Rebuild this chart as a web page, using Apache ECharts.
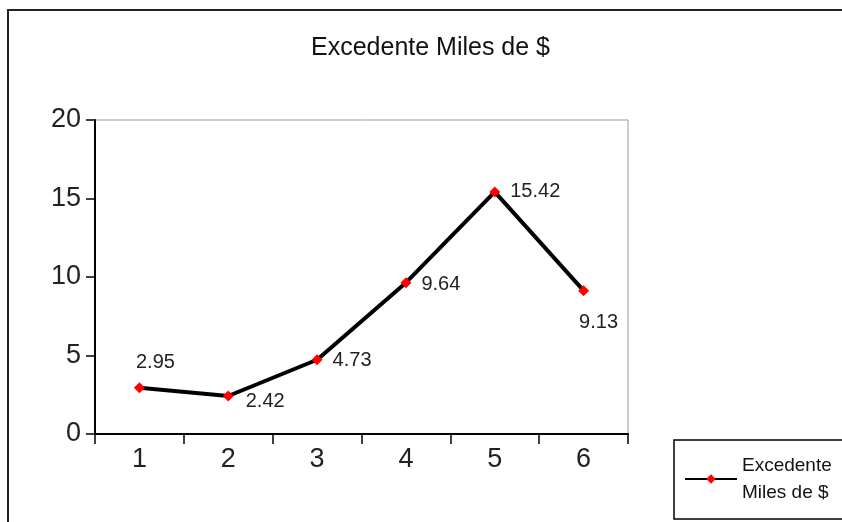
<!DOCTYPE html>
<html>
<head>
<meta charset="utf-8">
<script src="https://cdn.jsdelivr.net/npm/echarts@6/dist/echarts.min.js"></script>
<style>
  html, body { margin: 0; padding: 0; background: #fff; }
  #main { width: 842px; height: 522px; }
</style>
</head>
<body>
<div id="main"></div>
<script>
var categories = ['1', '2', '3', '4', '5', '6'];
var excedente = [2.95, 2.42, 4.73, 9.64, 15.42, 9.13];
// where each value label sits (the original puts them by hand)
var labelPos = ['top', 'right', 'right', 'right', 'right', 'bottom'];
var labelShift = [[16, 0], [2, 5], [0, 1], [0, 2], [0, 0], [15, 6]];

var myChart = echarts.init(document.getElementById('main'));

var seriesData = excedente.map(function (v, i) {
    return { value: v, label: { position: labelPos[i], offset: labelShift[i] } };
});

var option = {
    backgroundColor: '#fff',
    animation: false,
    graphic: [{
        type: 'rect',
        shape: { x: 8, y: 10, width: 900, height: 600 },
        style: { fill: 'none', stroke: '#222', lineWidth: 2 },
        silent: true
    }],
    title: {
        text: 'Excedente Miles de $',
        left: 306,
        top: 31,
        textStyle: {
            fontFamily: 'Liberation Sans, Arial, sans-serif',
            fontSize: 25,
            fontWeight: 'normal',
            color: '#111'
        }
    },
    legend: {
        left: 674,
        top: 440,
        padding: [12, 60, 13, 10],
        borderColor: '#000',
        borderWidth: 1.5,
        itemWidth: 52,
        itemHeight: 12,
        itemGap: 4,
        data: ['Excedente Miles de $'],
        formatter: function () { return 'Excedente\nMiles de $'; },
        textStyle: {
            fontFamily: 'Liberation Sans, Arial, sans-serif',
            fontSize: 19,
            lineHeight: 27,
            color: '#111'
        }
    },
    grid: {
        left: 95,
        top: 120,
        width: 533,
        height: 314,
        show: true,
        borderColor: '#999',
        borderWidth: 1,
        containLabel: false
    },
    xAxis: {
        type: 'category',
        data: categories,
        boundaryGap: true,
        axisLine: { lineStyle: { color: '#000', width: 2 } },
        axisTick: { show: true, length: 10, lineStyle: { color: '#000', width: 1.5 } },
        axisLabel: {
            margin: 12,
            fontFamily: 'Liberation Sans, Arial, sans-serif',
            fontSize: 27,
            color: '#222'
        },
        splitLine: { show: false }
    },
    yAxis: {
        type: 'value',
        min: 0,
        max: 20,
        interval: 5,
        axisLine: { show: true, lineStyle: { color: '#000', width: 2 } },
        axisTick: { show: true, length: 9, lineStyle: { color: '#000', width: 1.5 } },
        axisLabel: {
            margin: 14,
            fontFamily: 'Liberation Sans, Arial, sans-serif',
            fontSize: 27,
            color: '#222'
        },
        splitLine: { show: false }
    },
    series: [{
        name: 'Excedente Miles de $',
        type: 'line',
        data: seriesData,
        symbol: 'diamond',
        symbolSize: 11,
        itemStyle: { color: '#ff0000' },
        lineStyle: { color: '#000', width: 4 },
        label: {
            show: true,
            distance: 10,
            fontFamily: 'Liberation Sans, Arial, sans-serif',
            fontSize: 20,
            color: '#222'
        }
    }]
};
myChart.setOption(option);
</script>
</body>
</html>
